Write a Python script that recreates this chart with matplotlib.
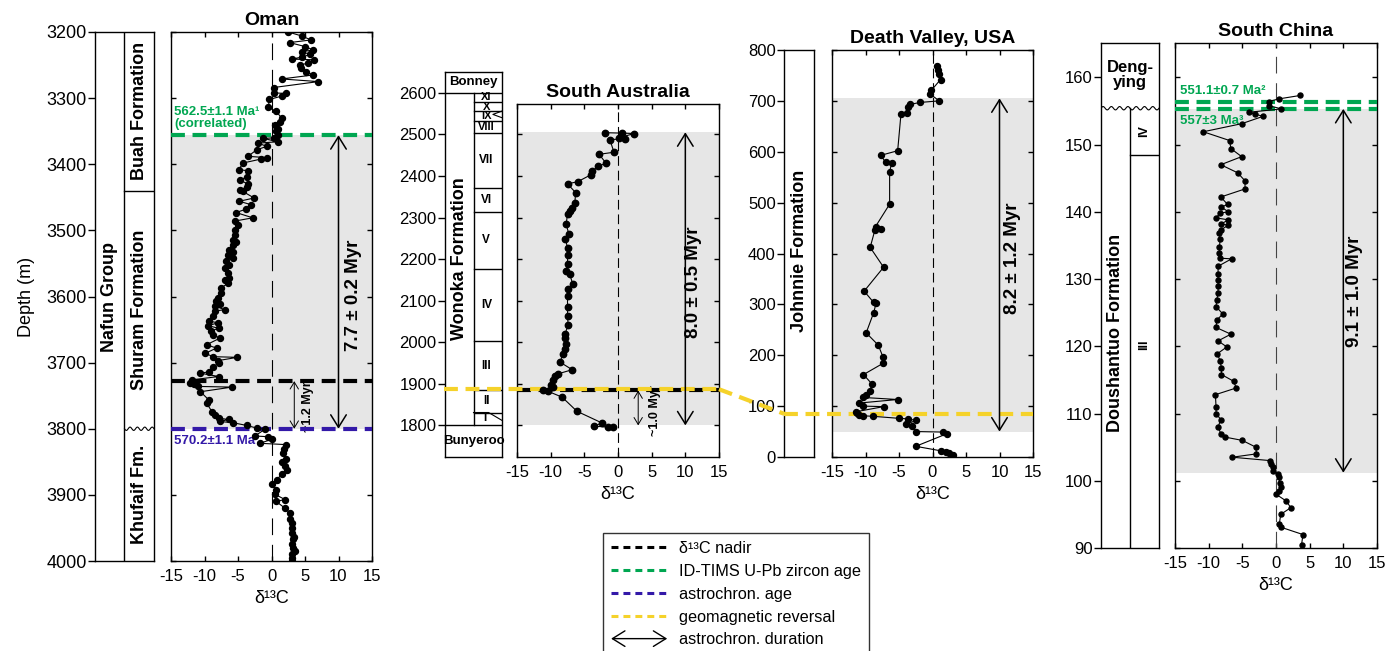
import numpy as np
import matplotlib.pyplot as plt
from matplotlib.lines import Line2D
from matplotlib.patches import FancyArrowPatch, ConnectionPatch
from matplotlib.legend_handler import HandlerBase
import matplotlib.transforms as mtransforms

plt.rcParams['font.family'] = ['Liberation Sans', 'DejaVu Sans']
plt.rcParams['lines.scale_dashes'] = False
plt.rcParams['axes.unicode_minus'] = False

W, H = 1399, 651

GREEN = '#00a651'
BLUE = '#3319a8'
YELLOW = '#f5d22a'
SHADE = '#e6e6e6'

# ---------------- Oman ----------------
oman_depth = [3200, 3206, 3212, 3216, 3222, 3227, 3230, 3234, 3238, 3241, 3242, 3247,
              3250, 3255, 3260, 3265, 3271, 3275, 3284, 3292, 3293, 3297, 3302, 3314,
              3320, 3330, 3336, 3340, 3346, 3350, 3356, 3360, 3361, 3366, 3368, 3373,
              3378, 3388, 3390, 3392, 3398, 3408, 3410, 3419, 3424, 3430, 3434, 3439,
              3441, 3451, 3456, 3461, 3468, 3473, 3481, 3486, 3492, 3499, 3507, 3514,
              3518, 3522, 3529, 3532, 3537, 3542, 3547, 3552, 3557, 3565, 3572, 3575,
              3580, 3587, 3595, 3602, 3607, 3611, 3614, 3620, 3622, 3629, 3637, 3640,
              3644, 3648, 3652, 3658, 3663, 3673, 3678, 3686, 3691, 3692, 3697, 3701,
              3706, 3714, 3716, 3721, 3726, 3731, 3733, 3736, 3737, 3744, 3756, 3761,
              3774, 3779, 3784, 3786, 3789, 3791, 3795, 3799, 3801, 3811, 3812, 3816,
              3822, 3824, 3830, 3837, 3845, 3850, 3857, 3863, 3869, 3877, 3884, 3892,
              3899, 3907, 3910, 3920, 3927, 3937, 3943, 3950, 3957, 3963, 3967, 3974,
              3980, 3985, 3990, 3995, 4000]
oman_d13c = [2.5, 4.5, 5.9, 2.7, 5.0, 6.2, 4.6, 5.8, 4.5, 3.0, 6.4, 5.5,
             4.2, 4.4, 5.2, 6.2, 1.5, 7.0, 0.3, 0.3, 2.2, 1.5, -0.3, -0.5,
             0.7, 1.5, 1.2, 0.5, 1.0, 0.7, 1.0, 0.3, -1.2, 1.0, -2.0, -0.7,
             -2.2, -3.5, -0.7, -1.5, -4.2, -4.9, -3.5, -3.7, -4.7, -3.5, -3.6, -4.7,
             -4.3, -2.6, -4.8, -3.1, -3.8, -5.3, -2.8, -5.5, -5.0, -5.5, -5.5, -5.8,
             -5.3, -5.8, -6.3, -5.8, -6.5, -5.8, -6.8, -6.3, -7.0, -6.5, -6.3, -7.0,
             -6.5, -7.5, -7.5, -8.0, -8.3, -7.7, -8.5, -7.0, -8.5, -8.8, -9.3, -8.0,
             -9.5, -7.9, -9.0, -8.7, -7.7, -9.7, -8.2, -9.9, -8.7, -5.1, -8.0, -7.9,
             -8.7, -9.4, -10.6, -7.9, -11.8, -12.1, -11.5, -10.9, -5.9, -10.6, -9.4, -9.7,
             -8.9, -8.4, -7.9, -6.4, -7.7, -5.7, -3.7, -2.2, -1.0, -2.5, -0.5, 0.0,
             -1.7, 2.2, 1.8, 1.7, 2.2, 1.6, 2.0, 2.3, 1.5, 0.8, 0.0, 0.7,
             0.5, 2.0, 0.7, 2.0, 2.7, 2.7, 3.1, 3.0, 3.0, 3.3, 3.2, 3.0,
             3.2, 3.5, 3.0, 3.1, 3.0]
oman_units = ['Buah Formation', 'Shuram Formation', 'Khufaif Fm.']
oman_unit_bounds = [3200, 3440, 3800, 4000]
oman_zircon = 3356
oman_nadir = 3728
oman_astro = 3800

# ---------------- South Australia ----------------
sa_height = [2504, 2503, 2502, 2492, 2490, 2487, 2457, 2452, 2431, 2423, 2411, 2403,
             2386, 2381, 2360, 2336, 2324, 2316, 2308, 2284, 2260, 2248, 2227, 2211,
             2189, 2171, 2165, 2139, 2127, 2111, 2085, 2063, 2041, 2019, 2010, 1996,
             1984, 1972, 1952, 1934, 1924, 1918, 1908, 1898, 1892, 1886, 1882, 1868,
             1834, 1806, 1798, 1796, 1795]
sa_d13c = [-2.0, 0.6, 2.4, 0.2, 1.0, -1.2, -0.6, -2.8, -1.8, -2.9, -3.9, -4.0,
           -6.0, -7.5, -6.3, -6.4, -6.8, -7.2, -7.5, -7.7, -7.3, -7.8, -7.5, -7.5,
           -7.5, -7.7, -7.2, -6.7, -7.4, -7.5, -7.5, -7.5, -7.4, -7.9, -7.8, -7.7,
           -7.8, -8.2, -8.6, -6.8, -8.9, -9.4, -9.7, -9.9, -9.7, -11.1, -10.4, -8.3,
           -6.1, -2.4, -3.5, -1.5, -0.7]
sa_members = ['XI', 'X', 'IX', 'VIII', 'VII', 'VI', 'V', 'IV', 'III', 'II', 'I']
sa_member_bounds = [2600, 2578, 2556, 2533, 2504, 2372, 2314, 2177, 2003, 1884, 1831, 1800]
sa_shade_top = 2505
sa_nadir = 1884
sa_reversal = 1887

# ---------------- Death Valley ----------------
dv_height = [769, 761, 753, 742, 721, 713, 700, 697, 693, 687, 676, 675,
             602, 593, 579, 577, 561, 497, 453, 448, 446, 412, 373, 326,
             304, 303, 283, 244, 220, 197, 184, 162, 143, 130, 122, 117,
             113, 106, 100, 99, 89, 86, 83, 81, 80, 76, 75, 72,
             64, 61, 50, 49, 46, 21, 12, 10, 7, 3]
dv_d13c = [0.7, 0.8, 1.0, 1.2, -0.15, -0.3, 1.0, -1.8, -3.4, -3.6, -3.8, -4.7,
           -5.2, -7.7, -7.0, -6.1, -6.4, -6.4, -8.5, -7.7, -8.6, -9.3, -7.3, -10.2,
           -8.8, -8.4, -8.8, -9.9, -8.1, -7.4, -7.4, -10.3, -9.0, -9.4, -10.0, -10.3,
           -5.2, -11.0, -10.3, -7.3, -11.4, -11.2, -11.0, -10.3, -8.9, -5.0, -3.7, -2.5,
           -3.9, -3.1, -2.5, 1.5, 2.2, -2.5, 1.3, 2.0, 2.5, 3.0]
dv_shade = (50, 705)
dv_reversal = 85

# ---------------- South China ----------------
sc_height = [157.3, 156.8, 156.4, 155.8, 155.3, 154.8, 154.5, 154.2, 153.1, 151.9,
             150.6, 149.4, 148.2, 147.0, 145.8, 144.6, 143.4, 142.2, 141.1, 140.7,
             140.0, 139.8, 139.1, 138.8, 138.2, 138.0, 137.3, 136.8, 135.9, 134.7,
             133.8, 133.1, 133.0, 131.9, 130.8, 129.9, 128.9, 127.9, 126.9, 125.9,
             124.8, 123.9, 122.8, 121.8, 120.8, 119.9, 118.9, 117.8, 116.8, 115.8,
             114.8, 113.8, 112.8, 110.9, 110.0, 109.1, 108.0, 107.0, 106.5, 106.0,
             105.0, 104.0, 103.5, 103.0, 102.5, 102.0, 101.5, 101.0, 100.5, 99.6,
             99.0, 98.5, 98.0, 97.0, 96.0, 95.0, 93.6, 93.1, 92.0, 90.5]
sc_d13c = [3.6, 0.5, -1.1, -1.1, 0.8, -4.0, -3.1, -1.9, -5.1, -10.8,
           -6.9, -6.7, -5.1, -8.2, -5.7, -4.6, -4.6, -8.2, -7.2, -8.1,
           -7.1, -8.3, -8.9, -7.1, -8.1, -7.1, -8.2, -8.4, -8.3, -8.4,
           -8.4, -8.3, -6.6, -8.6, -8.6, -8.6, -8.6, -8.6, -8.8, -8.9,
           -7.9, -8.8, -8.9, -6.7, -8.6, -7.3, -8.7, -8.3, -8.1, -8.1,
           -6.3, -5.9, -9.0, -8.9, -8.9, -8.2, -8.6, -8.2, -7.6, -5.0,
           -3.0, -2.9, -6.5, -0.9, -0.7, -0.5, -0.4, 0.3, 0.4, 0.6,
           0.7, 0.5, 0.0, 1.5, 2.2, 0.7, 0.5, 0.7, 4.0, 3.8]
sc_zircon = [156.4, 155.3]
sc_shade = (101.2, 155.3)
sc_dengying_base = 155.4
sc_member_bound = 148.5

fig = plt.figure(figsize=(W / 100, H / 100), dpi=100)


def px_axes(x0, y0, x1, y1):
    return fig.add_axes([x0 / W, 1 - y1 / H, (x1 - x0) / W, (y1 - y0) / H])


def column_axes(rect, ylim, yticks, labelsize, xmax=2):
    ax = px_axes(*rect)
    ax.set_xlim(0, xmax)
    ax.set_ylim(*ylim)
    ax.set_xticks([])
    ax.set_yticks(yticks)
    ax.tick_params(axis='y', direction='out', length=5, width=1, labelsize=labelsize, pad=1)
    for s in ax.spines.values():
        s.set_linewidth(1)
    return ax


def data_axes(rect, ylim, yticks, title, zero_dash, zero_color='k'):
    ax = px_axes(*rect)
    ax.set_xlim(-15, 15)
    ax.set_ylim(*ylim)
    ax.set_xticks(range(-15, 16, 5))
    ax.set_yticks(yticks)
    ax.set_yticklabels([])
    ax.tick_params(direction='in', top=True, right=True, length=3.6, width=1,
                   labelsize=12, pad=6)
    for s in ax.spines.values():
        s.set_linewidth(1)
    ax.axvline(0, color=zero_color, lw=0.8, dashes=zero_dash, zorder=2)
    ax.set_title(title, fontsize=14, fontweight='bold', pad=5)
    ax.set_xlabel('δ¹³C', fontsize=13, labelpad=4)
    return ax


def hline(ax, y, color, x0=0, zorder=4):
    tr = mtransforms.blended_transform_factory(ax.transAxes, ax.transData)
    ax.plot([x0, 1], [y, y], color=color, lw=3, dashes=(10, 5.5), transform=tr,
            clip_on=False, zorder=zorder, solid_capstyle='butt')


def duration(ax, top, bottom, x=10, small=False):
    if small:
        style = '<->,head_length=0.5,head_width=0.3'
        ms, lw = 10, 0.7
    else:
        style = '<->,head_length=0.45,head_width=0.28'
        ms, lw = 20, 1.1
    ax.annotate('', xy=(x, bottom), xytext=(x, top),
                arrowprops=dict(arrowstyle=style, mutation_scale=ms, lw=lw, color='k',
                                shrinkA=0, shrinkB=0), zorder=5)


def wavy(ax, y, amp, waves, x0=1, x1=2):
    xs = np.linspace(x0, x1, 120)
    ax.plot(xs, y + amp * np.sin((xs - x0) / (x1 - x0) * 2 * np.pi * waves),
            color='k', lw=0.8, zorder=3)


def series(ax, x, y, ms):
    ax.plot(x, y, color='k', lw=0.8, marker='o', ms=ms, mec='k', mfc='k', zorder=6)


# ================= Oman =================
oc = column_axes((95, 32, 154, 561), (4000, 3200), range(3200, 4001, 100), 13)
oc.axvline(1, color='k', lw=1)
oc.plot([1, 2], [oman_unit_bounds[1]] * 2, color='k', lw=1)
wavy(oc, oman_unit_bounds[2], 2.5, 4)
oc.text(0.5, 3600, 'Nafun Group', rotation=90, ha='center', va='center',
        fontsize=13, fontweight='bold')
for name, a, b in zip(oman_units, oman_unit_bounds[:-1], oman_unit_bounds[1:]):
    oc.text(1.5, (a + b) / 2, name, rotation=90, ha='center', va='center',
            fontsize=13, fontweight='bold')
oc.set_ylabel('Depth (m)', fontsize=13, labelpad=8)

od = data_axes((171, 32, 372, 561), (4000, 3200), range(3200, 4001, 100), 'Oman', (12, 7))
od.axhspan(oman_zircon, oman_astro, color=SHADE, zorder=0, lw=0)
series(od, oman_d13c, oman_depth, 4.3)
hline(od, oman_zircon, GREEN)
hline(od, oman_nadir, 'k')
hline(od, oman_astro, BLUE)
duration(od, oman_zircon, oman_astro)
duration(od, oman_nadir, oman_astro, x=3.4, small=True)
od.text(12.2, 3598, '7.7 ± 0.2 Myr', rotation=90, ha='center', va='center',
        fontsize=13.5, fontweight='bold')
od.text(5.4, 3767, '~1.2 Myr', rotation=90, ha='center', va='center',
        fontsize=9, fontweight='bold')
od.text(-14.5, 3330, '562.5±1.1 Ma¹\n(correlated)', color=GREEN, ha='left',
        va='center', fontsize=9.5, fontweight='bold', linespacing=1.1)
od.text(-14.5, 3819, '570.2±1.1 Ma', color=BLUE, ha='left', va='center',
        fontsize=9.5, fontweight='bold')

# ================= South Australia =================
sc_ = column_axes((445, 72, 502, 457), (1724, 2650), range(1800, 2601, 100), 12)
sc_.plot([0, 2], [sa_member_bounds[0]] * 2, color='k', lw=1)
sc_.plot([0, 2], [sa_member_bounds[-1]] * 2, color='k', lw=1)
sc_.plot([1, 1], [sa_member_bounds[-1], sa_member_bounds[0]], color='k', lw=1)
for b in sa_member_bounds[1:-1]:
    sc_.plot([1, 2], [b, b], color='k', lw=1)
# wedge in IX and pinch-out in I
sc_.plot([2, 1.68, 2], [2556, 2548, 2540], color='k', lw=0.8)
sc_.plot([1, 1.53, 2], [1831, 1831, 1812], color='k', lw=0.8)
for i, m in enumerate(sa_members):
    a, b = sa_member_bounds[i], sa_member_bounds[i + 1]
    y = (a + b) / 2
    x = 1.45
    if m == 'I':
        y = 1818
        x = 1.4
    fs = 8 if i < 4 else 8.5
    sc_.text(x, y, m, ha='center', va='center', fontsize=fs, fontweight='bold')
sc_.text(1, 2625, 'Bonney', ha='center', va='center', fontsize=9.5, fontweight='bold')
sc_.text(1, 1762, 'Bunyeroo', ha='center', va='center', fontsize=9.5, fontweight='bold')
sc_.text(0.5, 2200, 'Wonoka Formation', rotation=90, ha='center', va='center',
         fontsize=13, fontweight='bold')

sd = data_axes((517, 104, 719, 457), (1724, 2573), range(1800, 2573, 100),
               'South Australia', (7, 3.5))
sd.axhspan(1800, sa_shade_top, color=SHADE, zorder=0, lw=0)
series(sd, sa_d13c, sa_height, 4.6)
hline(sd, sa_nadir, 'k', zorder=4)
hline(sd, sa_reversal, YELLOW, x0=(444 - 517) / 202, zorder=4.5)
duration(sd, sa_shade_top, 1800)
duration(sd, sa_nadir, 1800, x=3, small=True)
sd.text(11.2, 2145, '8.0 ± 0.5 Myr', rotation=90, ha='center', va='center',
        fontsize=13.5, fontweight='bold')
sd.text(5.5, 1836, '~1.0 Myr', rotation=90, ha='center', va='center',
        fontsize=9, fontweight='bold')

# ================= Death Valley =================
dc = column_axes((784, 50, 814, 457), (0, 800), range(0, 801, 100), 12, xmax=1)
dc.text(0.5, 405, 'Johnnie Formation', rotation=90, ha='center', va='center',
        fontsize=13, fontweight='bold')

dd = data_axes((832, 50, 1033, 457), (0, 800), range(0, 801, 100),
               'Death Valley, USA', (7, 3.5))
dd.axhspan(*dv_shade, color=SHADE, zorder=0, lw=0)
series(dd, dv_d13c, dv_height, 4.3)
hline(dd, dv_reversal, YELLOW, x0=(784 - 832) / 201)
duration(dd, dv_shade[1], dv_shade[0])
dd.text(12.0, 391, '8.2 ± 1.2 Myr', rotation=90, ha='center', va='center',
        fontsize=13.5, fontweight='bold')

# yellow connector between South Australia and Death Valley
con = ConnectionPatch(xyA=(1, sa_reversal),
                      coordsA=mtransforms.blended_transform_factory(sd.transAxes, sd.transData),
                      xyB=(0, dv_reversal),
                      coordsB=mtransforms.blended_transform_factory(dc.transAxes, dc.transData),
                      color=YELLOW, lw=3, linestyle=(0, (10, 5.5)), capstyle='butt')
fig.add_artist(con)

# ================= South China =================
cc = column_axes((1101, 43, 1159, 548), (90, 165.1), range(90, 161, 10), 12)
wavy(cc, sc_dengying_base, 0.25, 7, x0=0, x1=2)
cc.plot([1, 1], [90, sc_dengying_base], color='k', lw=1)
cc.plot([1, 2], [sc_member_bound] * 2, color='k', lw=1)
cc.text(1, 160.4, 'Deng-\nying', ha='center', va='center', fontsize=12,
        fontweight='bold', linespacing=1.0)
cc.text(0.5, 122, 'Doushantuo Formation', rotation=90, ha='center', va='center',
        fontsize=13, fontweight='bold')
cc.text(1.5, (sc_member_bound + sc_dengying_base) / 2, 'IV', rotation=90,
        ha='center', va='center', fontsize=9, fontweight='bold')
cc.text(1.5, 120.2, 'III', rotation=90, ha='center', va='center', fontsize=9,
        fontweight='bold')

cd = data_axes((1175, 43, 1377, 548), (90, 165.1), range(90, 161, 10),
               'South China', (12, 7), zero_color='#444444')
cd.axhspan(*sc_shade, color=SHADE, zorder=0, lw=0)
series(cd, sc_d13c, sc_height, 3.6)
for z in sc_zircon:
    hline(cd, z, GREEN)
duration(cd, sc_shade[1], sc_shade[0])
cd.text(11.7, 128.1, '9.1 ± 1.0 Myr', rotation=90, ha='center', va='center',
        fontsize=13.5, fontweight='bold')
cd.text(-14.3, 157.9, '551.1±0.7 Ma²', color=GREEN, ha='left', va='center',
        fontsize=9.5, fontweight='bold')
cd.text(-14.3, 153.5, '557±3 Ma³', color=GREEN, ha='left', va='center',
        fontsize=9.5, fontweight='bold')


# ================= Legend =================
class ArrowHandler(HandlerBase):
    def create_artists(self, legend, orig_handle, xdescent, ydescent, width, height,
                       fontsize, trans):
        y = height / 2 - ydescent
        arr = FancyArrowPatch((-xdescent, y), (-xdescent + width, y),
                              arrowstyle='<->,head_length=0.45,head_width=0.28',
                              mutation_scale=20, lw=1, color='k', transform=trans,
                              shrinkA=0, shrinkB=0)
        return [arr]


leg_dash = (5, 3.6)
handles = [Line2D([], [], color='k', lw=2.2, dashes=leg_dash),
           Line2D([], [], color=GREEN, lw=2.2, dashes=leg_dash),
           Line2D([], [], color=BLUE, lw=2.2, dashes=leg_dash),
           Line2D([], [], color=YELLOW, lw=2.2, dashes=leg_dash),
           FancyArrowPatch((0, 0), (1, 0))]
labels = ['δ¹³C nadir', 'ID-TIMS U-Pb zircon age', 'astrochron. age',
          'geomagnetic reversal', 'astrochron. duration']
leg = fig.legend(handles, labels, loc='upper left',
                 bbox_to_anchor=(603 / W, 1 - 533 / H), frameon=True, fancybox=False,
                 edgecolor='k', fontsize=11.7, handlelength=3.45, handletextpad=0.7,
                 labelspacing=0.48, borderpad=0.5, borderaxespad=0,
                 handler_map={FancyArrowPatch: ArrowHandler()})
leg.get_frame().set_linewidth(1.0)

fig.savefig('out.png', dpi=100)
